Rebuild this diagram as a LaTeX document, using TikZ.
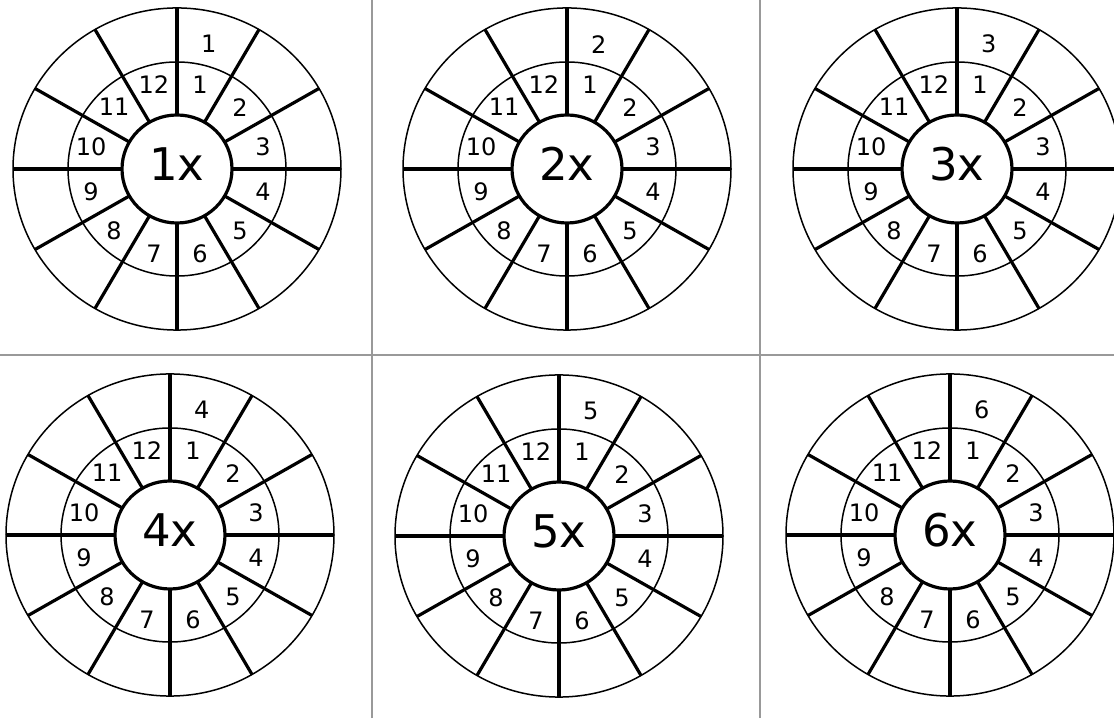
\documentclass[tikz,border=0pt]{standalone}
\usepackage{fontspec}
\setmainfont{DejaVu Sans}
\begin{document}
\begin{tikzpicture}[x=1pt,y=1pt,
  spoke/.style={line width=3.2pt},
  ring/.style={line width=1.5pt},
  numlbl/.style={font=\fontsize{24}{24}\selectfont,inner sep=0pt},
  hub/.style={font=\fontsize{45}{45}\selectfont,inner sep=0pt}]
\clip (0,0) rectangle (1114,718);
\draw[gray!80,line width=1.5pt](372,0)--(372,718);
\draw[gray!80,line width=1.5pt](760,0)--(760,718);
\draw[gray!80,line width=1.5pt](0,363)--(1114,363);
\foreach \i/\cx/\cy in {1/177/549,2/567/549,3/957/549,4/170/183,5/559/182,6/950/183}{
\begin{scope}[shift={(\cx,\cy)},yscale=.982]
\draw[ring](0,0)circle(164);
\draw[ring](0,0)circle(109);
\draw[spoke](0,0)circle(55);
\foreach \a in {0,30,...,330}
  \draw[spoke](\a:55)--(\a:164);
\foreach \n in {1,...,12}
  \node[numlbl](w\i-\n) at ({105-30*\n}:89){\n};
\node[numlbl](w\i-top) at (76:131){\i};
\node[hub](w\i) at (0,5){\i x};
\end{scope}}
\end{tikzpicture}
\end{document}
